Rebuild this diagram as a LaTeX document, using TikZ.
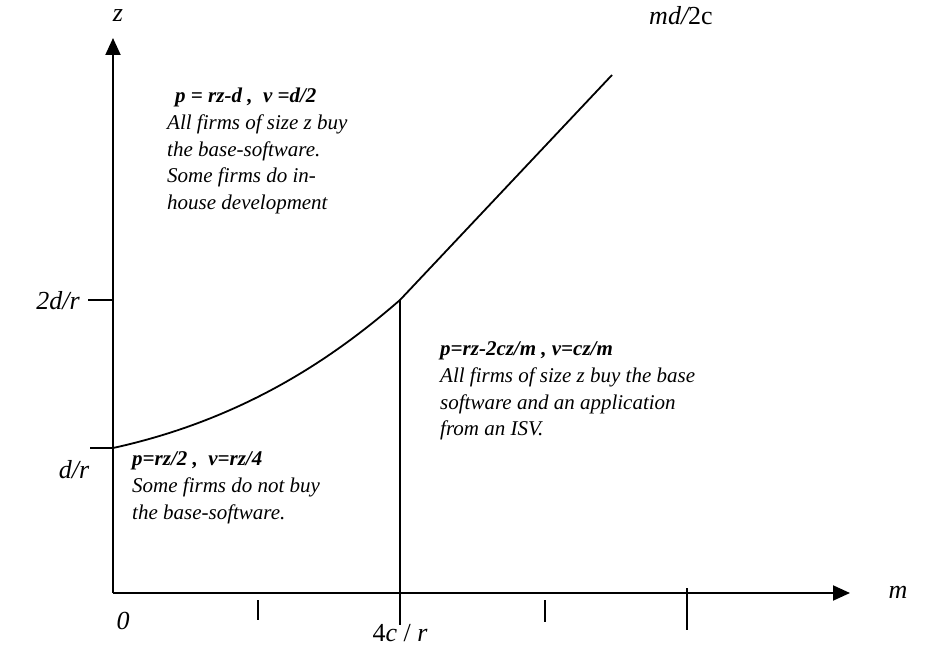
\documentclass[tikz,border=0pt]{standalone}
\usepackage{fontspec}
\setmainfont{Liberation Serif}
\usetikzlibrary{arrows.meta}
\tikzset{
  axis/.style={line width=2pt,-{Triangle[length=17pt,width=15pt]}},
  tickline/.style={line width=1.6pt},
  curveline/.style={line width=1.8pt},
  body/.style={anchor=north west,align=left,inner sep=0pt,font=\fontsize{21}{26.5}\selectfont\itshape},
  lbl/.style={inner sep=0pt,font=\fontsize{26}{30}\selectfont}
}
\begin{document}
\begin{tikzpicture}[x=1pt,y=-1pt]
\useasboundingbox (0,0) rectangle (926,652);
\coordinate (O) at (113,593);
\coordinate (ytop) at (113,38);
\coordinate (xend) at (850,593);
\coordinate (J) at (400,300);
\coordinate (S) at (113,448);
\coordinate (E) at (612,75);
\coordinate (Jb) at (400,625);
\draw[axis] (O) -- (ytop);
\draw[axis] (O) -- (xend);
% y ticks
\coordinate (t1a) at (88,300); \coordinate (t1b) at (113,300);
\coordinate (t2a) at (90,448);
\draw[tickline] (t1a) -- (t1b);
\draw[tickline] (t2a) -- (S);
% x ticks
\coordinate (x1a) at (258,600); \coordinate (x1b) at (258,620);
\coordinate (x3a) at (545,600); \coordinate (x3b) at (545,622);
\coordinate (x4a) at (687,588); \coordinate (x4b) at (687,630);
\draw[tickline] (x1a) -- (x1b);
\draw[tickline] (x3a) -- (x3b);
\draw[tickline] (x4a) -- (x4b);
% curve
\draw[curveline] (S) .. controls (250,418) and (340,352) .. (J) -- (E);
\draw[tickline] (J) -- (Jb);
% labels
\node[lbl] (lz) at (118,16) {\itshape z};
\node[lbl] (lmd) at (681,16) {\itshape md/\upshape 2c};
\node[lbl] (l2d) at (58,301) {\itshape 2d/r};
\node[lbl] (ld) at (74,470) {\itshape d/r};
\node[lbl] (l0) at (123,621) {\itshape 0};
\node[lbl] (l4c) at (400,633) {4\textit{c} / \textit{r}};
\node[lbl] (lm) at (898,592) {\itshape m};
% texts
\node[body] (r1h) at (175,88) {\bfseries p = rz-d~,~ v =d/2};
\node[body] (r1) at (167,115) {All firms of size z buy\\the base-software.\\Some firms do in-\\house development};
\node[body] (r2h) at (440,341) {\bfseries p=rz-2cz/m , v=cz/m};
\node[body] (r2) at (440,368) {All firms of size z buy the base\\software and an application\\from an ISV.};
\node[body] (r3h) at (132,451) {\bfseries p=rz/2 ,~ v=rz/4};
\node[body] (r3) at (132,478) {Some firms do not buy\\the base-software.};
\end{tikzpicture}
\end{document}
